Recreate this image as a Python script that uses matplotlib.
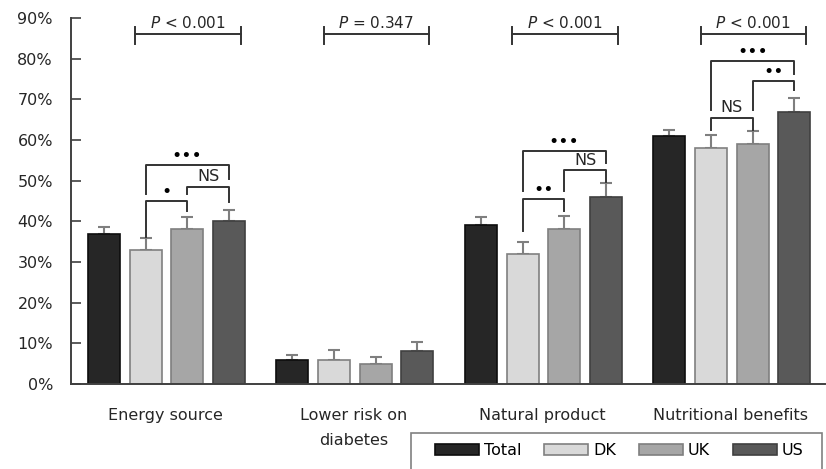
import matplotlib
matplotlib.use("Agg")
import matplotlib.pyplot as plt
from matplotlib.patches import Rectangle
import numpy as np

plt.rcParams['font.family'] = ['DejaVu Sans']
plt.rcParams['font.size'] = 11.5

# data (% of respondents)
categories = ["Energy source", "Lower risk on\ndiabetes", "Natural product", "Nutritional benefits"]
series = ["Total", "DK", "UK", "US"]
total = [37, 6, 39, 61]
dk = [33, 6, 32, 58]
uk = [38, 5, 38, 59]
us = [40, 8, 46, 67]
total_err = [1.7, 1.2, 2.0, 1.5]
dk_err = [2.8, 2.4, 2.9, 3.2]
uk_err = [3.0, 1.6, 3.3, 3.2]
us_err = [2.7, 2.4, 3.4, 3.3]
p_labels = ["< 0.001", "= 0.347", "< 0.001", "< 0.001"]

# pairwise comparisons: group, bars compared, label
pair_groups = [0, 0, 0, 2, 2, 2, 3, 3, 3]
pair_a = [1, 2, 1, 1, 2, 1, 1, 2, 1]
pair_b = [2, 3, 3, 2, 3, 3, 2, 3, 3]
pair_labels = ["\u2022", "NS", "\u2022\u2022\u2022",
               "\u2022\u2022", "NS", "\u2022\u2022\u2022",
               "NS", "\u2022\u2022", "\u2022\u2022\u2022"]
# bracket top, left leg end, right leg end
pair_top = [44.9, 48.4, 53.8, 45.5, 52.5, 57.4, 65.5, 74.5, 79.4]
pair_left_end = [36.1, 46.7, 46.7, 37.7, 47.5, 47.5, 62.4, 67.4, 67.4]
pair_right_end = [42.6, 44.7, 50.4, 42.6, 49.6, 54.3, 62.4, 72.2, 76.3]

values = [total, dk, uk, us]
errors = [total_err, dk_err, uk_err, us_err]
fills = ["#262626", "#d9d9d9", "#a6a6a6", "#595959"]
edges = ["#0d0d0d", "#808080", "#7f7f7f", "#404040"]
text_col = "#262626"

W, H = 826, 469
fig = plt.figure(figsize=(W / 100, H / 100), dpi=100)
ax = fig.add_axes([71 / W, 1 - 384 / H, 754 / W, 366 / H])

x = np.arange(len(categories))
pitch = 0.221
width = 0.17
offsets = [(i - 1.5) * pitch + 0.006 for i in range(4)]

for i in range(4):
    ax.bar(x + offsets[i], values[i], width, color=fills[i], edgecolor=edges[i],
           linewidth=1.2, label=series[i], zorder=2)
    ax.errorbar(x + offsets[i], values[i], yerr=[np.zeros(4), errors[i]], fmt='none',
                ecolor="#7f7f7f", elinewidth=1.5, capsize=4, capthick=1.5, zorder=1)

ax.set_xlim(-0.5, len(categories) - 0.5)
ax.set_ylim(0, 90)
ax.set_yticks(range(0, 91, 10))
ax.set_yticklabels([f"{v}%" for v in range(0, 91, 10)], color=text_col)
ax.tick_params(axis='y', direction='in', length=7, width=1.2, color="#404040", pad=13)
ax.set_xticks(x)
ax.set_xticklabels(categories, color=text_col, linespacing=1.9)
ax.tick_params(axis='x', length=0, pad=17)
for side in ["top", "right"]:
    ax.spines[side].set_visible(False)
for side in ["left", "bottom"]:
    ax.spines[side].set_color("#404040")
    ax.spines[side].set_linewidth(1.4)

line_kw = dict(color="#333333", lw=1.4, clip_on=False, zorder=3)

# overall country comparison per category
for g in range(len(categories)):
    x0, x1 = g - 0.16, g + 0.40
    ax.plot([x0, x1], [86, 86], **line_kw)
    ax.plot([x0, x0], [83.6, 87.8], **line_kw)
    ax.plot([x1, x1], [83.6, 87.8], **line_kw)
    ax.text(g + 0.12, 87.6, "$P$ " + p_labels[g], ha='center', va='baseline',
            color=text_col, fontsize=11)

# pairwise brackets
for k in range(len(pair_groups)):
    g = pair_groups[k]
    xa = g + offsets[pair_a[k]]
    xb = g + offsets[pair_b[k]]
    top = pair_top[k]
    ax.plot([xa, xa, xb, xb], [pair_left_end[k], top, top, pair_right_end[k]], **line_kw)
    lab = pair_labels[k]
    if lab == "NS":
        ax.text((xa + xb) / 2, top + 1.4, lab, ha='center', va='baseline',
                color=text_col, fontsize=11.5)
    else:
        ax.text((xa + xb) / 2, top + 1.0, lab, ha='center', va='baseline',
                color="black", fontsize=12.5)

# legend with a box that runs off the bottom edge
fig.add_artist(Rectangle((411 / W, -0.05), 411 / W, 1 - 433 / H + 0.05,
                         transform=fig.transFigure, fill=False,
                         edgecolor="#808080", linewidth=1.2))
fig.legend(loc='upper left', bbox_to_anchor=(435 / W, 1 - 443 / H), ncol=4,
           frameon=False, borderpad=0, borderaxespad=0,
           handlelength=2.75, handleheight=0.75, handletextpad=0.3,
           columnspacing=1.45, fontsize=11.5)

fig.savefig("out.png", dpi=100)
